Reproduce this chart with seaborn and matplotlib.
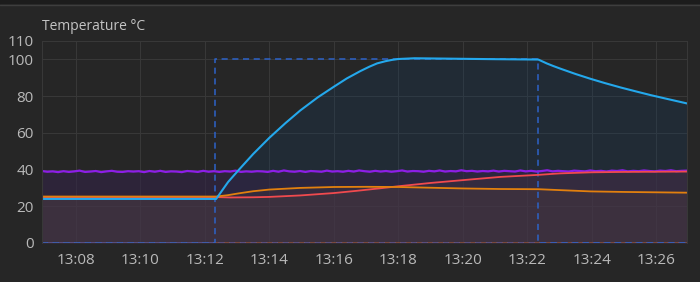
import numpy as np
import pandas as pd
import matplotlib
matplotlib.use("Agg")
import matplotlib.pyplot as plt
import matplotlib.dates as mdates
from matplotlib.patches import Rectangle
from matplotlib.lines import Line2D
import seaborn as sns

# ---- data (minutes after 13:00) ----
blue_t = [6.95, 12.35, 12.72, 13.04, 13.5, 14.0, 14.5, 14.96, 15.5, 16.0, 16.4, 16.82,
          17.1, 17.34, 17.6, 17.8, 18.0, 18.5, 19.0, 20.0, 21.0, 22.34, 22.6, 22.8, 23.03,
          23.5, 23.96, 24.4, 24.89, 25.4, 25.83, 26.4, 26.95]
blue_v = [24.0, 24.0, 33.2, 39.6, 48.5, 57.3, 65.3, 72.2, 79.3, 85.1, 89.6, 93.6,
          96.0, 97.8, 99.0, 99.7, 100.2, 100.6, 100.5, 100.3, 100.1, 99.9, 97.8, 96.4, 94.9,
          92.0, 89.4, 87.1, 84.7, 82.4, 80.5, 78.2, 76.0]

orange_t = [6.95, 12.35, 12.7, 13.04, 13.5, 14.0, 14.96, 16.0, 17.0, 18.0, 19.0, 20.0,
            21.17, 22.34, 23.0, 23.96, 25.0, 26.0, 26.95]
orange_v = [25.3, 25.3, 26.0, 27.0, 28.2, 29.1, 30.0, 30.5, 30.6, 30.5, 30.1, 29.7,
            29.4, 29.3, 28.8, 28.1, 27.8, 27.6, 27.4]

red_t = [6.95, 12.35, 12.8, 13.5, 14.0, 14.96, 16.0, 16.7, 17.44, 18.0, 19.0, 20.24,
         21.17, 22.34, 23.0, 24.0, 25.0, 26.95]
red_v = [25.0, 25.0, 24.8, 24.9, 25.1, 25.9, 27.2, 28.4, 29.8, 30.9, 32.7, 34.6,
         36.0, 37.1, 37.9, 38.5, 38.7, 38.9]

purple_t0, purple_dt = 6.95, 1.0 / 6.0
purple_v = [39.2, 38.8, 39.0, 38.6, 39.1, 38.7, 39.0, 39.4, 38.7, 38.9, 39.2, 38.6, 39.0, 39.3, 38.8, 38.7, 39.1, 38.9, 39.1, 38.6,
            39.2, 38.8, 39.3, 38.7, 39.0, 38.9, 38.6, 39.2, 39.0, 38.7, 39.3, 38.8, 39.1, 38.7, 39.1, 38.9, 39.4, 38.7, 39.0, 38.8,
            39.1, 39.0, 38.7, 39.3, 38.8, 39.5, 39.0, 38.8, 39.2, 38.7, 39.2, 39.0, 38.8, 39.4, 38.9, 39.1, 38.8, 39.3, 38.9, 39.5,
            39.1, 38.8, 39.3, 38.9, 39.2, 38.8, 39.1, 39.5, 38.9, 39.2, 39.1, 38.8, 39.3, 39.0, 39.5, 38.9, 39.2, 39.0, 39.6, 39.1,
            39.3, 38.9, 39.2, 39.0, 39.4, 38.9, 39.3, 39.1, 38.9, 39.5, 39.0, 39.3, 38.9, 39.2, 39.6, 39.0, 39.3, 39.1, 38.9, 39.4,
            39.2, 39.0, 39.5, 39.1, 39.3, 38.9, 39.4, 39.2, 39.6, 39.0, 39.3, 39.1, 39.5, 39.2, 39.0, 39.4, 39.2, 39.6, 39.1, 39.3,
            39.4]
purple_t = [purple_t0 + i * purple_dt for i in range(len(purple_v))]

setp_t = [6.95, 12.31, 12.31, 22.34, 22.34, 26.95]
setp_v = [0, 0, 100, 100, 0, 0]

zero_t = [6.95, 26.95]
zero_v = [0, 0]

y_ticks = [0, 20, 40, 60, 80, 100, 110]
title = "Temperature °C"

base = pd.Timestamp("2024-01-01 13:00:00")
def to_dt(ts):
    return [base + pd.Timedelta(seconds=t * 60) for t in ts]

df_b = pd.DataFrame({"t": to_dt(blue_t), "v": blue_v})
df_o = pd.DataFrame({"t": to_dt(orange_t), "v": orange_v})
df_r = pd.DataFrame({"t": to_dt(red_t), "v": red_v})
df_p = pd.DataFrame({"t": to_dt(purple_t), "v": purple_v})
df_s = pd.DataFrame({"t": to_dt(setp_t), "v": setp_v})
df_z = pd.DataFrame({"t": to_dt(zero_t), "v": zero_v})

BG = "#262626"
GRID = "#383838"
TXT = "#b9b9b9"
C_BLUE = "#24a8ec"
C_PURPLE = "#8d1ee6"
C_ORANGE = "#e2800e"
C_RED = "#f04a4e"

sns.set_theme(style="dark")
plt.rcParams["font.family"] = ["Open Sans", "DejaVu Sans"]

fig = plt.figure(figsize=(7.0, 2.82), dpi=100, facecolor=BG)
ax = fig.add_axes([42 / 700, 1 - 243 / 282, 645 / 700, 202 / 282])
ax.set_facecolor(BG)

# fills
ax.fill_between(df_b["t"], df_b["v"], 0, color=(20/255, 60/255, 100/255), alpha=0.25, lw=0)
ax.fill_between(df_p["t"], df_p["v"], 0, color=(50/255, 36/255, 70/255), alpha=0.6, lw=0)
ax.fill_between(df_o["t"], df_o["v"], 0, color=(200/255, 130/255, 60/255), alpha=0.06, lw=0)
ax.fill_between(df_r["t"], df_r["v"], 0, color=(200/255, 130/255, 70/255), alpha=0.06, lw=0)

# zero dashed lines for other setpoints
sns.lineplot(data=df_z, x="t", y="v", ax=ax, color="#b0603a", lw=1.1, alpha=0.7,
             linestyle=(0, (4, 3)), estimator=None, sort=False)
sns.lineplot(data=df_z, x="t", y="v", ax=ax, color="#6a62a8", lw=1.1, alpha=0.8,
             linestyle=(3.5, (4, 3)), estimator=None, sort=False)
# setpoint
sns.lineplot(data=df_s, x="t", y="v", ax=ax, color="#2d63c8", lw=1.1,
             linestyle=(0, (4, 3)), estimator=None, sort=False)

sns.lineplot(data=df_p, x="t", y="v", ax=ax, color=C_PURPLE, lw=1.6, estimator=None, sort=False)
sns.lineplot(data=df_r, x="t", y="v", ax=ax, color=C_RED, lw=1.3, estimator=None, sort=False)
sns.lineplot(data=df_o, x="t", y="v", ax=ax, color=C_ORANGE, lw=1.3, estimator=None, sort=False)
sns.lineplot(data=df_b, x="t", y="v", ax=ax, color=C_BLUE, lw=1.5, estimator=None, sort=False)

ax.set_xlim(to_dt([6.95])[0], to_dt([26.95])[0])
ax.set_ylim(0, 110)
ax.set_yticks(y_ticks)
ax.xaxis.set_major_locator(mdates.MinuteLocator(byminute=range(0, 60, 2)))
ax.xaxis.set_major_formatter(mdates.DateFormatter("%H:%M"))
ax.set_xlabel("")
ax.set_ylabel("")
ax.grid(True, color=GRID, lw=0.8)
ax.set_axisbelow(True)
for s in ["left", "right", "top"]:
    ax.spines[s].set_visible(True)
    ax.spines[s].set_color(GRID)
    ax.spines[s].set_linewidth(0.8)
ax.spines["bottom"].set_visible(False)
ax.tick_params(axis="both", length=0, colors=TXT, labelsize=11)
ax.tick_params(axis="y", pad=6)
ax.tick_params(axis="x", pad=7)

fig.text(42 / 700, 1 - 27 / 282, title, color="#c4c4c4", fontsize=10, va="center", ha="left")

# top band
fig.add_artist(Rectangle((0, 1 - 4 / 282), 1, 4 / 282, transform=fig.transFigure,
                         color="#1c1c1c", lw=0))
fig.add_artist(Line2D([0, 1], [1 - 4.5 / 282] * 2, transform=fig.transFigure, color="#3e3e3e", lw=1))

fig.savefig("out.png", dpi=100, facecolor=BG)
